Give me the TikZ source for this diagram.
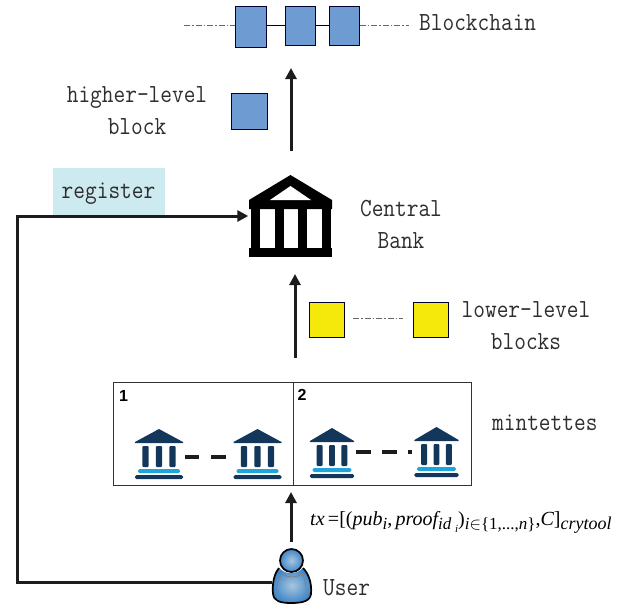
\documentclass[tikz,border=0pt]{standalone}
\usepackage{fontspec}
\usetikzlibrary{arrows.meta}
\setsansfont{Liberation Sans}
\setmonofont{Latin Modern Mono}[FakeStretch=0.87]
\newfontfamily\mathserif{Liberation Serif}
\definecolor{inkc}{HTML}{1C1C1C}
\definecolor{textc}{HTML}{2E2E2E}
\definecolor{blueblock}{HTML}{6F9BD3}
\definecolor{yellowblock}{HTML}{F5E90B}
\definecolor{regfill}{HTML}{CDEAF0}
\definecolor{navyb}{HTML}{12375A}
\definecolor{cyanb}{HTML}{1FA5DC}
\definecolor{userout}{HTML}{3F86C8}
\definecolor{userin}{HTML}{A9C6DE}
\newcommand{\lowtxt}[3]{\raisebox{#1pt}{\fontsize{#2}{#2}\selectfont #3}}
\tikzset{
  block/.style={draw=black!80!blue,line width=0.8pt,rectangle,inner sep=0pt,anchor=north west},
  blueb/.style={block,fill=blueblock},
  yellowb/.style={block,fill=yellowblock},
  lab/.style={font=\ttfamily\fontsize{26.1}{32}\selectfont,text=textc,align=center,inner sep=0pt},
  flow/.style={draw=inkc,line width=3pt,-{Triangle[length=11pt,width=11pt]}},
  dotted link/.style={draw=black!60,line width=0.6pt,dash pattern=on 6pt off 2pt on 1.5pt off 2pt},
  minibank/.pic={
    \fill[navyb] (0,0) -- (24,13) -- (24,14) -- (-24,14) -- (-24,13) -- cycle;
    \foreach \cx in {-13.5,0,13.5}
      \fill[navyb,rounded corners=1pt] (\cx-3.2,17) rectangle (\cx+3.2,38);
    \fill[cyanb,rounded corners=1.5pt] (-21,40) rectangle (21,44);
    \fill[navyb,rounded corners=1.5pt] (-24,46) rectangle (24,50);
  },
  gap dash/.style={draw=inkc,line width=4pt}
}
\begin{document}
\begin{tikzpicture}[x=1pt,y=-1pt]
\useasboundingbox (0,0) rectangle (629,605);
% blockchain
\node[blueb,minimum width=31pt,minimum height=41pt] (b1) at (235,6) {};
\node[blueb,minimum width=30pt,minimum height=39pt] (b2) at (285,6) {};
\node[blueb,minimum width=30pt,minimum height=39pt] (b3) at (329,6) {};
\coordinate (chainl) at (184,25);
\coordinate (chainr) at (409,25);
\draw[dotted link] (chainl) -- (b1.west |- chainl);
\draw[dotted link] (b3.east |- chainr) -- (chainr);
\draw[black,line width=0.9pt] (b1.east |- chainl) -- (b2.west |- chainl);
\draw[black,line width=0.9pt] (b2.east |- chainl) -- (b3.west |- chainl);
\node[lab,anchor=west] (chainlab) at (419,23) {Blockchain};
% higher level
\node[blueb,minimum width=36pt,minimum height=36pt] (hb) at (231,93) {};
\node[lab] (hl) at (137,111) {higher-level\\block};
\coordinate (up1a) at (291,151);
\coordinate (up1b) at (291,68);
\draw[flow] (up1a) -- (up1b);
% central bank
\node[inner sep=0pt,minimum width=84pt,minimum height=82pt] (cb) at (290.5,216) {};
\fill[black] (290.5,175) -- (332,200) -- (332,209) -- (249,209) -- (249,200) -- cycle;
\fill[white] (290.5,186) -- (311,200) -- (270,200) -- cycle;
\foreach \cl in {251,275,298,322}
  \fill[black] (\cl,209) rectangle (\cl+8.5,249);
\fill[black] (249,248) rectangle (332,257);
\node[lab] (cbl) at (401,224) {Central\\Bank};
% register
\node[fill=regfill,inner sep=0pt,minimum width=112pt,minimum height=49pt,anchor=north west] (reg) at (53,168) {};
\node[lab] (regt) at (108.5,193.5) {register};
% lower level
\node[yellowb,minimum width=35pt,minimum height=35pt] (y1) at (309,302) {};
\node[yellowb,minimum width=35pt,minimum height=35pt] (y2) at (413,302) {};
\coordinate (yl) at (353,318);
\coordinate (yr) at (403,318);
\draw[dotted link] (yl) -- (yr);
\node[lab] (ll) at (526,326) {lower-level\\blocks};
\coordinate (up2a) at (295,358);
\coordinate (up2b) at (295,274);
\draw[flow] (up2a) -- (up2b);
% mintettes
\node[draw=black!80,line width=1pt,inner sep=0pt,minimum width=358pt,minimum height=103pt,anchor=north west] (mint) at (113,382) {};
\draw[draw=black!80,line width=1pt] (293,382) -- (293,485);
\node[font=\sffamily\bfseries\fontsize{16}{16}\selectfont,inner sep=0pt] (n1) at (123.5,396) {1};
\node[font=\sffamily\bfseries\fontsize{16}{16}\selectfont,inner sep=0pt] (n2) at (302,395) {2};
\pic at (159,429) {minibank};
\pic at (257.5,429) {minibank};
\pic[xscale=0.92] at (332,428) {minibank};
\pic[xscale=0.92] at (436.5,427) {minibank};
\draw[gap dash] (185,457) -- (199,457);
\draw[gap dash] (211,457) -- (226,457);
\draw[gap dash] (356,452) -- (371,452);
\draw[gap dash] (382,452) -- (397,452);
\draw[gap dash] (408,452) -- (412,452);
\node[lab,anchor=west] (mlab) at (492,423) {mintettes};
% user
\shade[inner color=userin,outer color=userout] (279,568) .. controls (274,574) and (272,584) .. (273,594)
  .. controls (274,601) and (280,603) .. (291,603) .. controls (303,603) and (310,601) .. (311,594)
  .. controls (312,584) and (309,574) .. (303,568) .. controls (296,575) and (286,575) .. (279,568) -- cycle;
\draw[black,line width=1.7pt] (279,568) .. controls (274,574) and (272,584) .. (273,594)
  .. controls (274,601) and (280,603) .. (291,603) .. controls (303,603) and (310,601) .. (311,594)
  .. controls (312,584) and (309,574) .. (303,568);
\draw[black!50,line width=0.7pt] (278,600) .. controls (276,590) and (277,580) .. (282,574) .. controls (288,578) and (296,578) .. (302,574) .. controls (306,580) and (307,590) .. (305,600);
\shade[inner color=userin,outer color=userout,draw=black,line width=1.7pt] (291.5,560.5) circle (11.5);
\node[inner sep=0pt,minimum width=40pt,minimum height=38pt] (user) at (292,584) {};
\node[lab,anchor=west] (ulab) at (323,588) {User};
% arrows
\coordinate (up3a) at (291,542);
\coordinate (up3b) at (291,492);
\draw[flow] (up3a) -- (up3b);
\coordinate (regc1) at (17,582);
\coordinate (regc2) at (17,216);
\draw[draw=inkc,line width=3pt,-{Triangle[length=11pt,width=11pt]}]
  (user.west |- regc1) -- (regc1) -- (regc2) -- (cb.west |- regc2);
% formula
\node[anchor=west,inner sep=0pt,font=\mathserif\fontsize{20}{22}\selectfont,text=black] (fm) at (310,522)
 {\itshape tx\,\upshape =[(\itshape pub\lowtxt{-4}{17}{i}\upshape ,\,\itshape proof\lowtxt{-4}{17}{id\lowtxt{-3}{11}{\,\,i}}\upshape )\lowtxt{-4}{17}{\itshape i\upshape $\in$\{1,...,\itshape n\upshape \}}\upshape ,\itshape C\upshape ]\lowtxt{-4}{18}{\itshape crytool}};
\end{tikzpicture}
\end{document}
